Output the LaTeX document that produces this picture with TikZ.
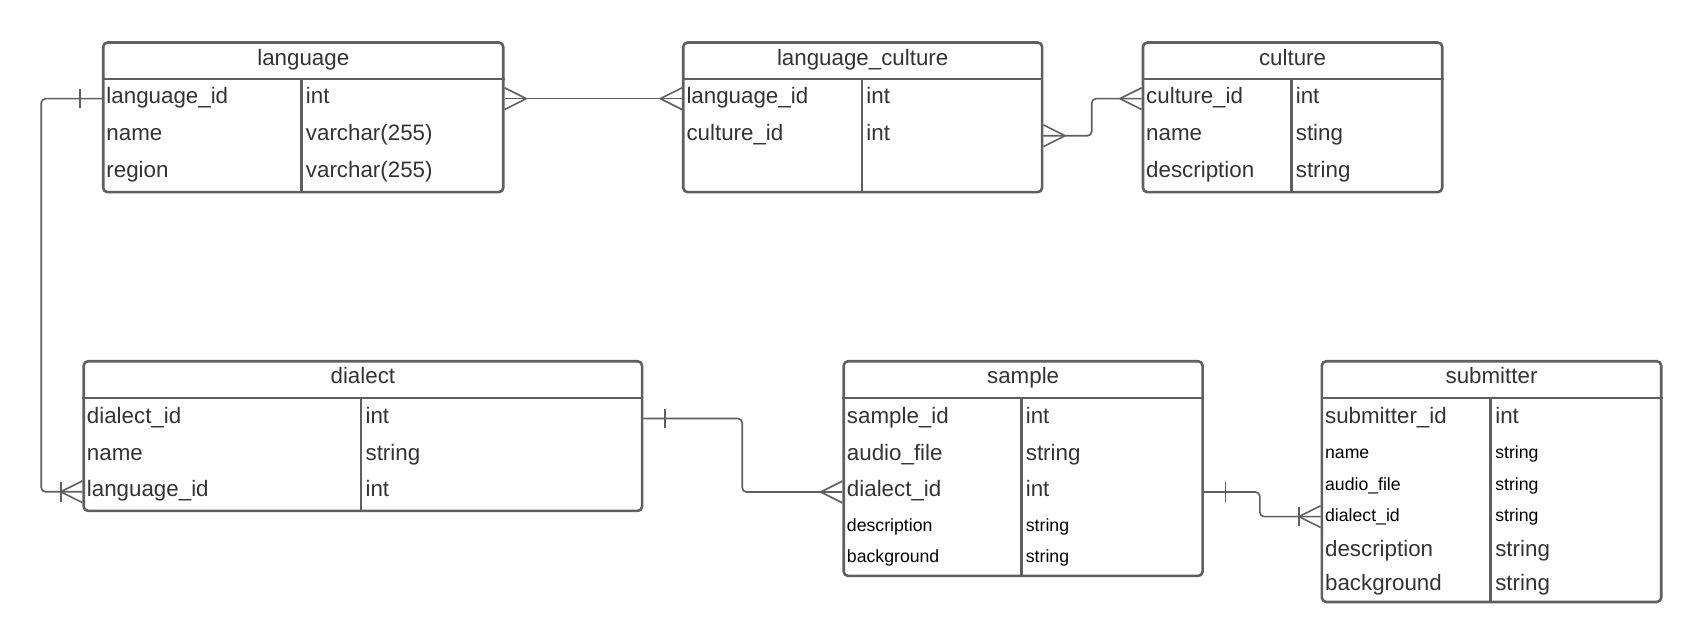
\documentclass[tikz,border=0pt]{standalone}
\usepackage{fontspec}
\setmainfont{Liberation Sans}
\usetikzlibrary{calc}

\definecolor{boxgray}{HTML}{5F5F5F}
\definecolor{txtgray}{HTML}{333333}

\newcommand{\bigf}{\fontsize{20.6}{24}\selectfont}
\newcommand{\smallf}{\fontsize{16.3}{19}\selectfont}

% name, x, y, width, height, divider, title
\newcommand{\erentity}[7]{%
	\node[entity, minimum width=#4pt, minimum height=#5pt, anchor=north west] (#1) at (#2,#3) {};
	\draw[rule] ([yshift=-35pt]#1.north west) -- ([yshift=-35pt]#1.north east);
	\draw[rule] ([xshift=#6pt, yshift=-35pt]#1.north west) -- ([xshift=#6pt]#1.south west);
	\node[head] (#1-title) at ([yshift=-17.5pt]#1.north) {#7};
}

\begin{document}
\begin{tikzpicture}[x=1pt, y=-1pt, line join=round]
	\tikzset{
		entity/.style={draw=boxgray, line width=2.4pt, rounded corners=4pt, inner sep=0pt},
		rule/.style={draw=boxgray, line width=2.4pt},
		head/.style={font=\bigf, text=txtgray, inner sep=0pt, text height=0.95em, text depth=0.05em},
		field/.style={anchor=west, font=\bigf, text=txtgray, inner xsep=4pt, inner ysep=0pt, text height=0.95em, text depth=0.05em},
		sfield/.style={field, font=\smallf, text=black},
		conn/.style={draw=boxgray, line width=1.5pt, rounded corners=4pt},
		crow/.pic={\draw[conn] (-20,0) -- (0,-10) (-20,0) -- (0,10);},
		one/.pic={\draw[conn] (-20,-9) -- (-20,9);},
	}
	\useasboundingbox (0,0) rectangle (1568,592);

	% tables
	\erentity{language}{94}{38}{369}{138}{184}{language}
	\foreach \k/\t/\n [count=\i from 0] in {language\_id/int/id, name/varchar(255)/name, region/varchar(255)/region}{
		\node[field] (lang-\n) at (94,91+34.2*\i) {\k};
		\node[field] (lang-\n-type) at (278,91+34.2*\i) {\t};
	}

	\erentity{lc}{629}{38}{331}{138}{166}{language\_culture}
	\foreach \k/\t/\n [count=\i from 0] in {language\_id/int/lid, culture\_id/int/cid}{
		\node[field] (lc-\n) at (629,91+34.2*\i) {\k};
		\node[field] (lc-\n-type) at (795,91+34.2*\i) {\t};
	}

	\erentity{culture}{1053}{38}{276}{138}{138}{culture}
	\foreach \k/\t/\n [count=\i from 0] in {culture\_id/int/id, name/sting/name, description/string/desc}{
		\node[field] (cul-\n) at (1053,91+34.2*\i) {\k};
		\node[field] (cul-\n-type) at (1191,91+34.2*\i) {\t};
	}

	\erentity{dialect}{76}{332}{515}{138}{257}{dialect}
	\foreach \k/\t/\n [count=\i from 0] in {dialect\_id/int/id, name/string/name, language\_id/int/lang}{
		\node[field] (dia-\n) at (76,386+33.8*\i) {\k};
		\node[field] (dia-\n-type) at (333,386+33.8*\i) {\t};
	}

	\erentity{sample}{777}{332}{331}{198}{165}{sample}
	\node[field] (sam-id) at (777,386) {sample\_id};
	\node[field] (sam-id-type) at (942,386) {int};
	\node[field] (sam-audio) at (777,420) {audio\_file};
	\node[field] (sam-audio-type) at (942,420) {string};
	\node[field] (sam-dia) at (777,453.8) {dialect\_id};
	\node[field] (sam-dia-type) at (942,453.8) {int};
	\node[sfield] (sam-desc) at (777,486) {description};
	\node[sfield] (sam-desc-type) at (942,486) {string};
	\node[sfield] (sam-bg) at (777,514.6) {background};
	\node[sfield] (sam-bg-type) at (942,514.6) {string};

	\erentity{submitter}{1218}{332}{313}{222}{157}{submitter}
	\node[field] (sub-id) at (1218,386) {submitter\_id};
	\node[field] (sub-id-type) at (1375,386) {int};
	\node[sfield] (sub-name) at (1218,418) {name};
	\node[sfield] (sub-name-type) at (1375,418) {string};
	\node[sfield] (sub-audio) at (1218,447.5) {audio\_file};
	\node[sfield] (sub-audio-type) at (1375,447.5) {string};
	\node[sfield] (sub-dia) at (1218,476.5) {dialect\_id};
	\node[sfield] (sub-dia-type) at (1375,476.5) {string};
	\node[field] (sub-desc) at (1218,508.5) {description};
	\node[field] (sub-desc-type) at (1375,508.5) {string};
	\node[field] (sub-bg) at (1218,540.5) {background};
	\node[field] (sub-bg-type) at (1375,540.5) {string};

	% relations
	\coordinate (bendL) at (38,0);
	\coordinate (bendC) at (1007,0);
	\coordinate (bendD) at (684.6,0);
	\coordinate (bendS) at (1162,0);

	\draw[conn] (language.west |- lang-id) -| (bendL |- dia-lang) -- (dialect.west |- dia-lang);
	\pic at (language.west |- lang-id) {one};
	\pic at (dialect.west |- dia-lang) {crow};
	\pic at (dialect.west |- dia-lang) {one};

	\draw[conn] (language.east |- lang-id) -- (lc.west |- lc-lid);
	\pic[xscale=-1] at (language.east |- lang-id) {crow};
	\pic at (lc.west |- lc-lid) {crow};

	\draw[conn] (lc.east |- lc-cid) -| (bendC |- cul-id) -- (culture.west |- cul-id);
	\pic[xscale=-1] at (lc.east |- lc-cid) {crow};
	\pic at (culture.west |- cul-id) {crow};

	\draw[conn] (dialect.east |- dia-id) -| (bendD |- sam-dia) -- (sample.west |- sam-dia);
	\pic[xscale=-1] at (dialect.east |- dia-id) {one};
	\pic at (sample.west |- sam-dia) {crow};

	\draw[conn] (sample.east |- sam-dia) -| (bendS |- sub-dia) -- (submitter.west |- sub-dia);
	\pic[xscale=-1] at (sample.east |- sam-dia) {one};
	\pic at (submitter.west |- sub-dia) {crow};
	\pic at (submitter.west |- sub-dia) {one};
\end{tikzpicture}
\end{document}
